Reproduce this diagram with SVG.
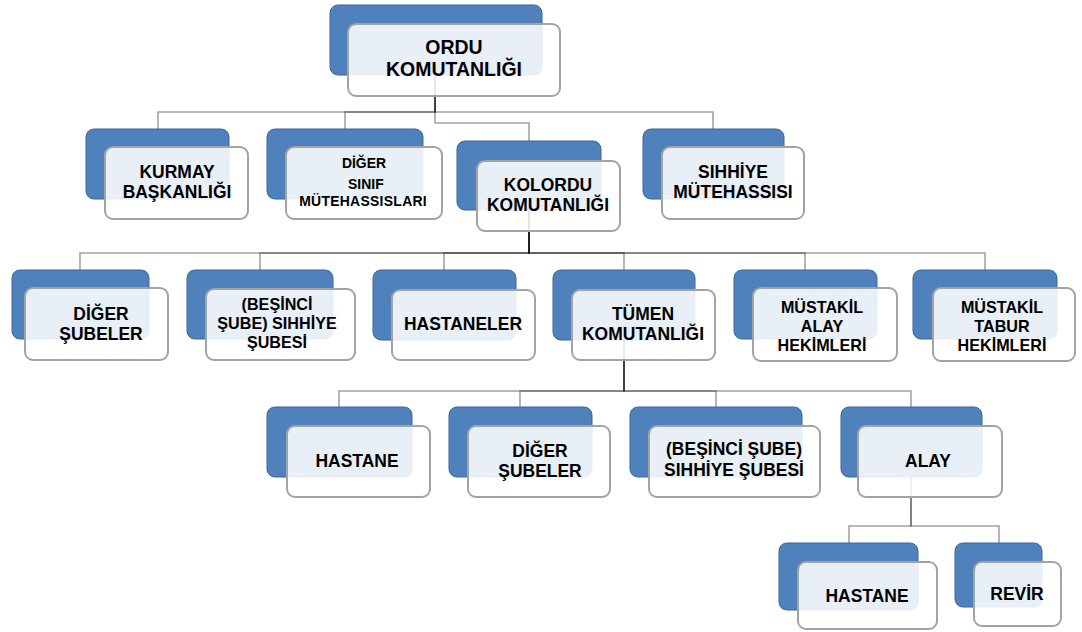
<svg xmlns="http://www.w3.org/2000/svg" width="1082" height="632" viewBox="0 0 1082 632">
<style>
.b{fill:#4f81bd;stroke:#3d6797;stroke-width:1}
.w{fill:#ffffff;fill-opacity:0.875;stroke:#a3a3a3;stroke-width:2}
.t{font-family:"Liberation Sans",Arial,sans-serif;font-weight:bold;font-size:19px;fill:#000;text-anchor:middle}
.r{font-size:20.5px}
.m{font-size:17px}
.s{font-size:15px}
.c{fill:none;stroke:#000;stroke-opacity:0.36;stroke-width:1.6}
</style>
<rect width="1082" height="632" fill="#ffffff"/>
<g id="connectors">
<path class="c" d="M435,74 V112 H158 V129"/>
<path class="c" d="M435,74 V112 H345 V129"/>
<path class="c" d="M435,74 V112 H713 V129"/>
<path class="c" d="M435,74 V123 H529 V141"/>
<path class="c" d="M529,210 V253 H80 V270"/>
<path class="c" d="M529,210 V253 H260 V270"/>
<path class="c" d="M529,210 V253 H444 V270"/>
<path class="c" d="M529,210 V253 H624 V270"/>
<path class="c" d="M529,210 V253 H805 V270"/>
<path class="c" d="M529,210 V253 H985 V270"/>
<path class="c" d="M624,339 V391 H339 V407"/>
<path class="c" d="M624,339 V391 H520 V407"/>
<path class="c" d="M624,339 V391 H716 V407"/>
<path class="c" d="M624,339 V391 H911 V407"/>
<path class="c" d="M911,477 V526 H849 V543"/>
<path class="c" d="M911,477 V526 H999 V543"/>
</g>
<g id="ordu">
<rect class="b" x="330" y="5" width="212" height="70" rx="8"/>
<rect class="w" x="348" y="24" width="212" height="72" rx="8"/>
<g transform="translate(454 0) scale(0.95 1)">
<text class="t r" x="0" y="54">ORDU</text>
<text class="t r" x="0" y="76">KOMUTANLIĞI</text>
</g>
</g>
<g id="kurmay">
<rect class="b" x="86" y="129" width="143" height="70" rx="8"/>
<rect class="w" x="105" y="147" width="143" height="72" rx="8"/>
<g transform="translate(177 0) scale(0.92 1)">
<text class="t" x="0" y="178">KURMAY</text>
<text class="t" x="0" y="198">BAŞKANLIĞI</text>
</g>
</g>
<g id="diger-sinif">
<rect class="b" x="267" y="129" width="156" height="70" rx="8"/>
<rect class="w" x="286" y="147" width="156" height="72" rx="8"/>
<g transform="translate(364 0) scale(0.93 1)">
<text class="t s" x="0" y="168">DİĞER</text>
<text class="t s" x="2" y="189">SINIF</text>
<text class="t s" x="-1" y="206" letter-spacing="0.3">MÜTEHASSISLARI</text>
</g>
</g>
<g id="kolordu">
<rect class="b" x="457" y="141" width="144" height="69" rx="8"/>
<rect class="w" x="477" y="161" width="143" height="70" rx="8"/>
<g transform="translate(548 0) scale(0.92 1)">
<text class="t" x="0" y="191">KOLORDU</text>
<text class="t" x="0" y="211">KOMUTANLIĞI</text>
</g>
</g>
<g id="sihhiye-mutehassisi">
<rect class="b" x="643" y="129" width="141" height="70" rx="8"/>
<rect class="w" x="662" y="147" width="142" height="72" rx="8"/>
<g transform="translate(733 0) scale(0.92 1)">
<text class="t" x="0" y="178">SIHHİYE</text>
<text class="t" x="0" y="198">MÜTEHASSISI</text>
</g>
</g>
<g id="diger-subeler">
<rect class="b" x="12" y="270" width="137" height="69" rx="8"/>
<rect class="w" x="25" y="288" width="143" height="72" rx="8"/>
<g transform="translate(101 0) scale(0.92 1)">
<text class="t" x="0" y="320">DİĞER</text>
<text class="t" x="0" y="340">ŞUBELER</text>
</g>
</g>
<g id="besinci-sube">
<rect class="b" x="187" y="270" width="146" height="69" rx="8"/>
<rect class="w" x="206" y="289" width="149" height="71" rx="8"/>
<g transform="translate(277 0) scale(0.95 1)">
<text class="t m" x="0" y="310">(BEŞİNCİ</text>
<text class="t m" x="0" y="329">ŞUBE) SIHHİYE</text>
<text class="t m" x="0" y="348">ŞUBESİ</text>
</g>
</g>
<g id="hastaneler">
<rect class="b" x="373" y="270" width="143" height="70" rx="8"/>
<rect class="w" x="392" y="290" width="143" height="70" rx="8"/>
<g transform="translate(463 0) scale(0.92 1)">
<text class="t" x="0" y="330">HASTANELER</text>
</g>
</g>
<g id="tumen">
<rect class="b" x="553" y="270" width="142" height="70" rx="8"/>
<rect class="w" x="572" y="290" width="143" height="70" rx="8"/>
<g transform="translate(643 0) scale(0.92 1)">
<text class="t" x="0" y="320">TÜMEN</text>
<text class="t" x="0" y="340">KOMUTANLIĞI</text>
</g>
</g>
<g id="mustakil-alay">
<rect class="b" x="734" y="270" width="143" height="69" rx="8"/>
<rect class="w" x="753" y="288" width="144" height="73" rx="8"/>
<g transform="translate(822 0) scale(0.95 1)">
<text class="t m" x="0" y="313">MÜSTAKİL</text>
<text class="t m" x="0" y="332">ALAY</text>
<text class="t m" x="0" y="351">HEKİMLERİ</text>
</g>
</g>
<g id="mustakil-tabur">
<rect class="b" x="913" y="270" width="144" height="69" rx="8"/>
<rect class="w" x="933" y="288" width="142" height="73" rx="8"/>
<g transform="translate(1002 0) scale(0.95 1)">
<text class="t m" x="0" y="313">MÜSTAKİL</text>
<text class="t m" x="0" y="332">TABUR</text>
<text class="t m" x="0" y="351">HEKİMLERİ</text>
</g>
</g>
<g id="hastane-tumen">
<rect class="b" x="267" y="407" width="145" height="70" rx="8"/>
<rect class="w" x="287" y="426" width="143" height="71" rx="8"/>
<g transform="translate(357 0) scale(0.92 1)">
<text class="t" x="0" y="467">HASTANE</text>
</g>
</g>
<g id="diger-subeler-tumen">
<rect class="b" x="449" y="407" width="143" height="70" rx="8"/>
<rect class="w" x="468" y="426" width="142" height="71" rx="8"/>
<g transform="translate(540 0) scale(0.92 1)">
<text class="t" x="0" y="457">DİĞER</text>
<text class="t" x="0" y="477">ŞUBELER</text>
</g>
</g>
<g id="besinci-sube-tumen">
<rect class="b" x="630" y="407" width="172" height="70" rx="8"/>
<rect class="w" x="649" y="426" width="171" height="71" rx="8"/>
<g transform="translate(734 0) scale(0.92 1)">
<text class="t" x="0" y="455">(BEŞİNCİ ŞUBE)</text>
<text class="t" x="0" y="476">SIHHİYE ŞUBESİ</text>
</g>
</g>
<g id="alay">
<rect class="b" x="841" y="407" width="141" height="70" rx="8"/>
<rect class="w" x="858" y="426" width="144" height="71" rx="8"/>
<g transform="translate(928 0) scale(0.92 1)">
<text class="t" x="0" y="467">ALAY</text>
</g>
</g>
<g id="hastane-alay">
<rect class="b" x="779" y="543" width="139" height="67" rx="8"/>
<rect class="w" x="798" y="562" width="139" height="67" rx="8"/>
<g transform="translate(867 0) scale(0.92 1)">
<text class="t" x="0" y="602">HASTANE</text>
</g>
</g>
<g id="revir">
<rect class="b" x="955" y="543" width="87" height="64" rx="8"/>
<rect class="w" x="974" y="562" width="87" height="64" rx="8"/>
<g transform="translate(1017 0) scale(0.92 1)">
<text class="t" x="0" y="600">REVİR</text>
</g>
</g>
</svg>
